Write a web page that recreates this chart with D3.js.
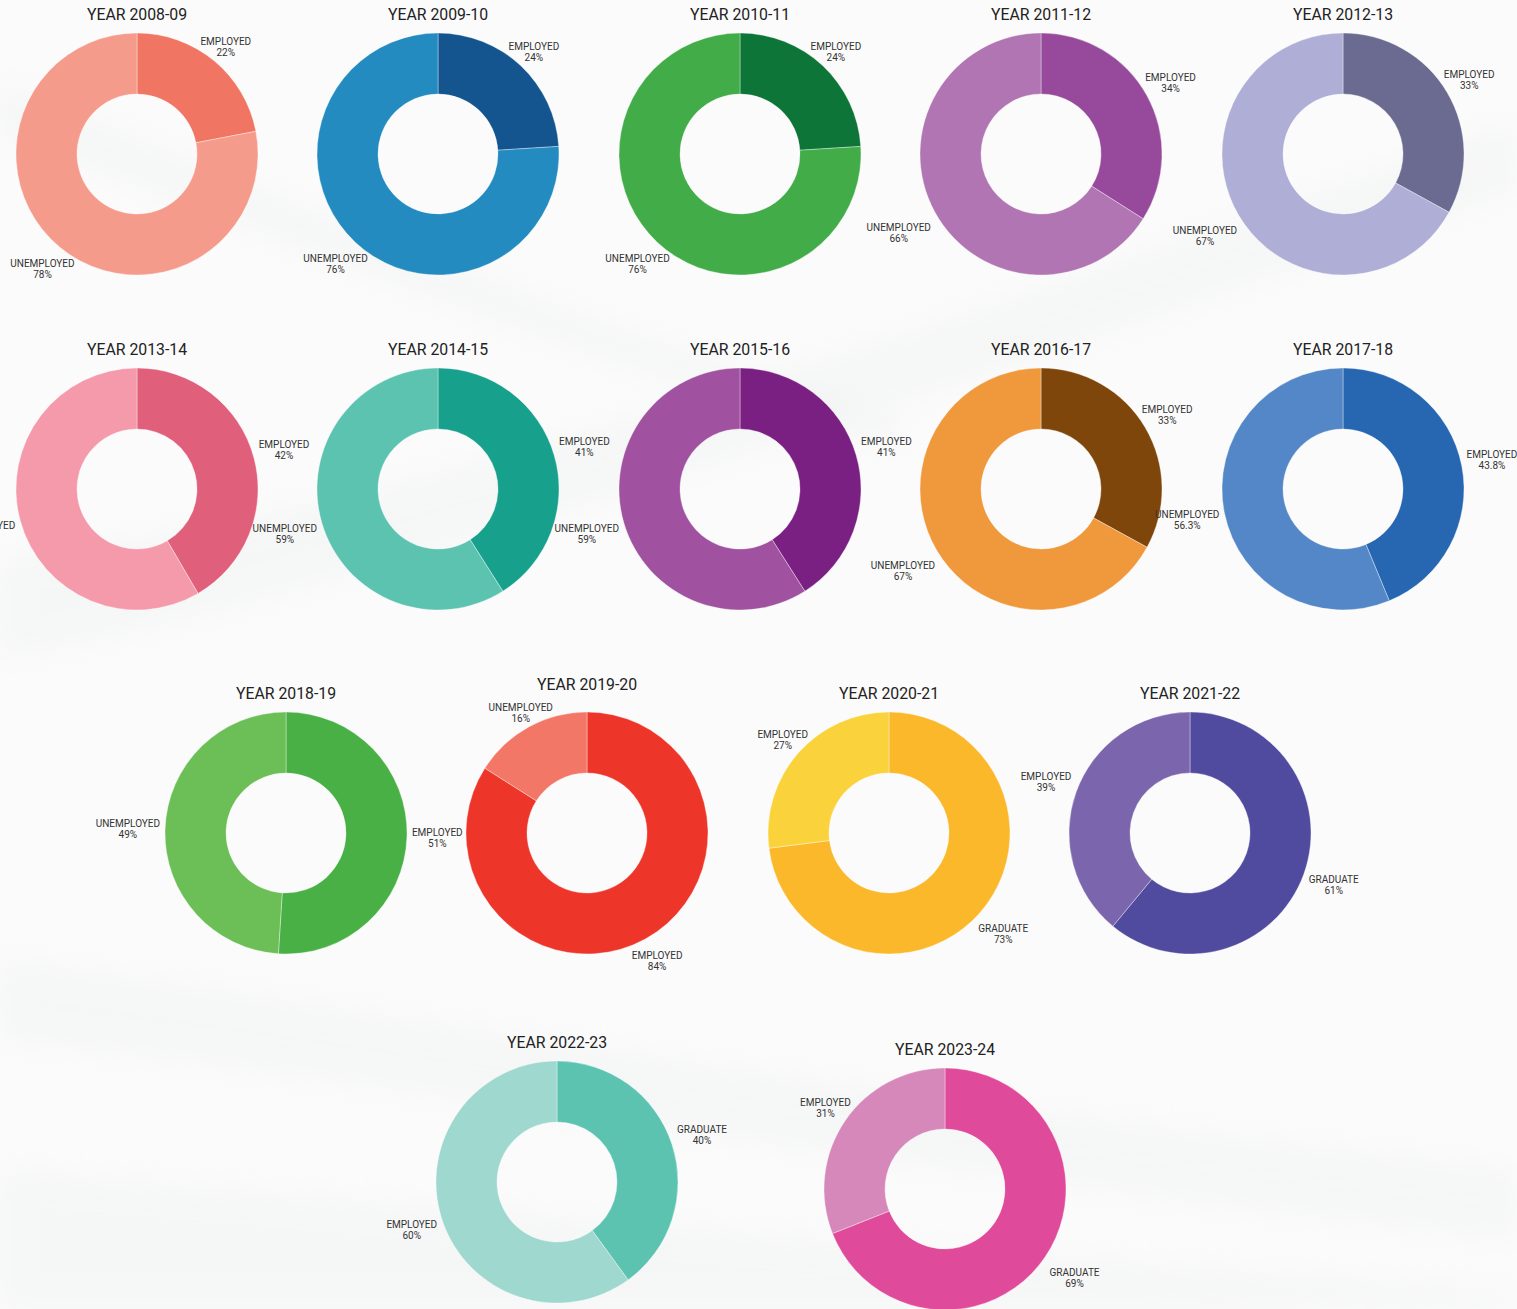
<!DOCTYPE html>
<html>
<head>
<meta charset="utf-8">
<script src="https://cdn.jsdelivr.net/npm/d3@7"></script>
<style>
  html, body { margin: 0; padding: 0; background: #fbfbfb; }
  svg { display: block; }
</style>
</head>
<body>
<script>
// Data, one entry per year
const years = ["2008-09", "2009-10", "2010-11", "2011-12", "2012-13",
  "2013-14", "2014-15", "2015-16", "2016-17", "2017-18",
  "2018-19", "2019-20", "2020-21", "2021-22",
  "2022-23", "2023-24"];

const sliceNames = [
  ["EMPLOYED", "UNEMPLOYED"], ["EMPLOYED", "UNEMPLOYED"], ["EMPLOYED", "UNEMPLOYED"],
  ["EMPLOYED", "UNEMPLOYED"], ["EMPLOYED", "UNEMPLOYED"],
  ["EMPLOYED", "UNEMPLOYED"], ["EMPLOYED", "UNEMPLOYED"], ["EMPLOYED", "UNEMPLOYED"],
  ["EMPLOYED", "UNEMPLOYED"], ["EMPLOYED", "UNEMPLOYED"],
  ["EMPLOYED", "UNEMPLOYED"], ["EMPLOYED", "UNEMPLOYED"], ["GRADUATE", "EMPLOYED"],
  ["GRADUATE", "EMPLOYED"],
  ["GRADUATE", "EMPLOYED"], ["GRADUATE", "EMPLOYED"]
];

const sliceValues = [
  [22, 78], [24, 76], [24, 76], [34, 66], [33, 67],
  [42, 59], [41, 59], [41, 59], [33, 67], [43.8, 56.3],
  [51, 49], [84, 16], [73, 27], [61, 39],
  [40, 60], [69, 31]
];

// Styles
const sliceColors = [
  ["#f07663", "#f59b8b"], ["#15558f", "#238bbf"], ["#0c7537", "#41ac48"],
  ["#974a9b", "#b075b2"], ["#6b6b91", "#aeaed7"],
  ["#e05f7b", "#f49aab"], ["#17a08c", "#5dc3b1"], ["#7a2082", "#a052a0"],
  ["#7f460b", "#f0993c"], ["#2767b1", "#5487c7"],
  ["#49b046", "#6cbf57"], ["#ee352a", "#f37766"], ["#fcb82b", "#fad33c"],
  ["#504b9e", "#7b66ad"],
  ["#5dc3b1", "#9fd8cf"], ["#e04a9a", "#d688ba"]
];

// Layout: donut centres and gap between title and ring
const centers = [
  [137, 154], [438, 154], [740, 154], [1041, 154], [1343, 154],
  [137, 489], [438, 489], [740, 489], [1041, 489], [1343, 489],
  [286, 833], [587, 833], [889, 833], [1190, 833],
  [557, 1182], [945, 1189]
];
const titleGaps = [18, 18, 18, 18, 18, 18, 18, 18, 18, 18, 18, 27, 18, 18, 18, 18];

const width = 1517, height = 1309;
const outerR = 121, innerR = 60;

const svg = d3.select("body").append("svg")
  .attr("width", width)
  .attr("height", height);

// faint, blurred background swooshes
svg.append("defs").append("filter")
  .attr("id", "soft")
  .attr("x", "-20%").attr("y", "-20%").attr("width", "140%").attr("height", "140%")
  .append("feGaussianBlur").attr("stdDeviation", 14);

const bg = svg.append("g");
bg.append("rect").attr("width", width).attr("height", height).attr("fill", "#fbfbfb");
const swooshes = [
  "M0,560 C300,520 700,420 1517,120 L1517,190 C700,480 300,600 0,660 Z",
  "M0,960 C400,1010 800,1090 1517,1170 L1517,1240 C800,1160 400,1080 0,1040 Z",
  "M0,1170 C500,1210 900,1250 1517,1290 L1517,1309 L0,1309 Z",
  "M0,80 C200,160 500,300 900,420 L900,450 C500,340 200,200 0,140 Z"
];
bg.selectAll("path")
  .data(swooshes)
  .join("path")
  .attr("d", d => d)
  .attr("fill", "#eceeef")
  .attr("opacity", 0.35)
  .attr("filter", "url(#soft)");

const pie = d3.pie().sort(null).value(d => d.value);
const arc = d3.arc().innerRadius(innerR).outerRadius(outerR);

years.forEach((year, i) => {
  const [cx, cy] = centers[i];
  const g = svg.append("g").attr("transform", `translate(${cx},${cy})`);

  const rows = sliceNames[i].map((name, k) => ({
    name: name,
    value: sliceValues[i][k],
    color: sliceColors[i][k]
  }));
  const arcs = pie(rows);

  g.selectAll("path")
    .data(arcs)
    .join("path")
    .attr("d", arc)
    .attr("fill", d => d.data.color)
    .attr("stroke", "#ffffff")
    .attr("stroke-opacity", 0.6)
    .attr("stroke-width", 0.6);

  // Title
  svg.append("text")
    .attr("x", cx)
    .attr("y", cy - outerR - titleGaps[i] + 5)
    .attr("text-anchor", "middle")
    .attr("font-family", "Roboto, sans-serif")
    .attr("font-size", 15.8)
    .attr("fill", "#222")
    .text("YEAR " + year);

  // Labels, placed just outside the ring along the slice's mid angle
  arcs.forEach(a => {
    const lbl = g.append("text")
      .attr("text-anchor", "middle")
      .attr("font-family", "Roboto, sans-serif")
      .attr("font-size", 10)
      .attr("fill", "#333");
    lbl.append("tspan").attr("x", 0).attr("dy", -1.5).text(a.data.name);
    lbl.append("tspan").attr("x", 0).attr("dy", 11).text(a.data.value + "%");

    const w = lbl.node().getBBox().width;
    const mid = (a.startAngle + a.endAngle) / 2;
    const s = Math.sin(mid), c = Math.cos(mid);
    const hw = w / 2 + 1;
    const hh = c > 0 ? 11 : 18;
    const d = outerR + 4 + Math.min(hw / Math.max(Math.abs(s), 1e-6), hh / Math.max(Math.abs(c), 1e-6));
    lbl.attr("transform", `translate(${d * s},${-d * c})`);
  });
});
</script>
</body>
</html>
